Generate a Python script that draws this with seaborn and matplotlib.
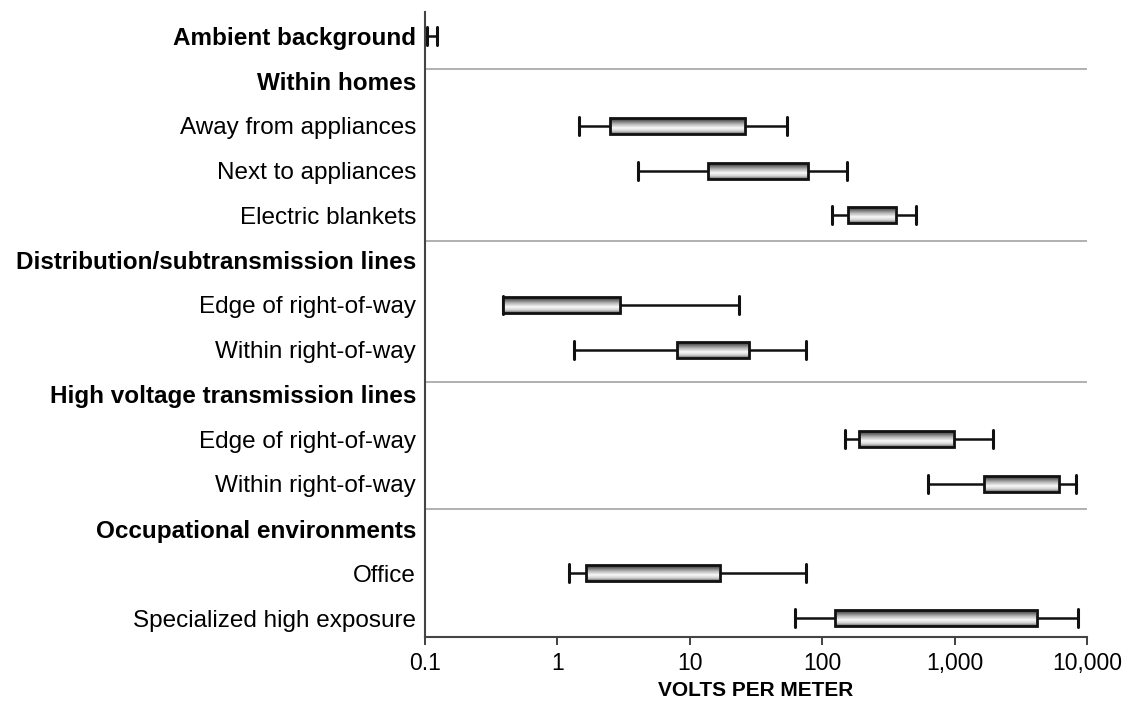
import numpy as np
import pandas as pd
import matplotlib
matplotlib.use("Agg")
import matplotlib.pyplot as plt
from matplotlib.ticker import FixedLocator, FixedFormatter
import seaborn as sns

# Rows from top to bottom (headers have no data)
row_labels = [
    "Ambient background",
    "Within homes",
    "Away from appliances",
    "Next to appliances",
    "Electric blankets",
    "Distribution/subtransmission lines",
    "Edge of right-of-way",
    "Within right-of-way",
    "High voltage transmission lines",
    "Edge of right-of-way",
    "Within right-of-way",
    "Occupational environments",
    "Office",
    "Specialized high exposure",
]
is_header = [True, True, False, False, False, True, False, False, True, False, False, True, False, False]

# volts per meter: whisker low, box low, box high, whisker high
whisker_low = [0.104, None, 1.46, 4.1, 119, None, 0.39, 1.34, None, 149, 627, None, 1.22, 62]
box_low = [0.104, None, 2.5, 13.7, 157, None, 0.39, 8.0, None, 190, 1667, None, 1.66, 125]
box_high = [0.104, None, 26, 78, 361, None, 2.97, 28, None, 990, 6110, None, 16.9, 4170]
whisker_high = [0.123, None, 54, 154, 511, None, 23.5, 75.5, None, 1950, 8260, None, 75.5, 8600]

x_ticks = [0.1, 1, 10, 100, 1000, 10000]
x_ticklabels = ["0.1", "1", "10", "100", "1,000", "10,000"]
separators = [0.74, 4.58, 7.72, 10.56]

# unique keys per row (some labels repeat)
keys = [f"{i:02d} {lab}" for i, lab in enumerate(row_labels)]

# five points per row -> quartiles land exactly on box_low / box_high
rows = []
for key, wl, bl, bh, wh in zip(keys, whisker_low, box_low, box_high, whisker_high):
    if wl is None:
        continue
    for v in [wl, bl, np.sqrt(bl * bh), bh, wh]:
        rows.append({"row": key, "value": v})
df = pd.DataFrame(rows)

sns.set_style("white")
plt.rcParams["font.family"] = ["Liberation Sans", "DejaVu Sans"]
plt.rcParams["text.color"] = "black"
plt.rcParams["axes.labelcolor"] = "black"

fig, ax = plt.subplots(figsize=(11.35, 7.14), dpi=100)
fig.subplots_adjust(left=0.3744, right=0.9577, top=0.983, bottom=0.108)

sns.boxplot(
    data=df, x="value", y="row", order=keys, orient="h",
    log_scale=True, whis=(0, 100), width=0.36, showfliers=False,
    color="white", linecolor="#111111", linewidth=2.0,
    medianprops={"linewidth": 0},
    whiskerprops={"linewidth": 1.8, "color": "#111111"},
    capprops={"linewidth": 2.2, "color": "#111111"},
    capwidths=0.4,
    ax=ax,
)

# cylinder-like shading inside each box
prof_pos = [0, 0.15, 0.42, 0.65, 0.85, 1.0]
prof_val = [0.18, 0.32, 0.72, 0.97, 0.82, 0.45]
grad = np.interp(np.linspace(0, 1, 64), prof_pos, prof_val).reshape(-1, 1)
for patch in list(ax.patches):
    verts = patch.get_path().vertices
    x0, x1 = verts[:, 0].min(), verts[:, 0].max()
    y0, y1 = verts[:, 1].min(), verts[:, 1].max()
    patch.set_facecolor("none")
    patch.set_zorder(3)
    if x1 / x0 < 1.01:
        continue
    im = ax.imshow(grad, cmap="gray", vmin=0, vmax=1, aspect="auto",
                   extent=(x0, x1, y1, y0), interpolation="bilinear", zorder=2)
    im.set_clip_path(patch)

for y in separators:
    ax.axhline(y, color="#aaaaaa", linewidth=1.3, zorder=1)

ax.set_xscale("log")
ax.set_xlim(0.1, 10000)
ax.set_ylim(13.42, -0.54)
ax.xaxis.set_major_locator(FixedLocator(x_ticks))
ax.xaxis.set_major_formatter(FixedFormatter(x_ticklabels))
ax.xaxis.set_minor_locator(FixedLocator([]))
ax.tick_params(axis="x", which="major", length=6, width=1.3, color="#333333",
               labelsize=16.5, labelcolor="black", pad=5, bottom=True)
ax.tick_params(axis="y", length=0, pad=6.5, labelsize=17.5, labelcolor="black")
ax.set_yticks(range(len(row_labels)))
ax.set_yticklabels(row_labels)
ax.set_ylabel("")
ax.set_xlabel("VOLTS PER METER", fontsize=15, fontweight="bold", labelpad=4)

for lab, head in zip(ax.get_yticklabels(), is_header):
    if head:
        lab.set_fontweight("bold")

sns.despine(ax=ax)
for side in ["left", "bottom"]:
    ax.spines[side].set_color("#444444")
    ax.spines[side].set_linewidth(1.5)

plt.savefig("out.png", dpi=100)
